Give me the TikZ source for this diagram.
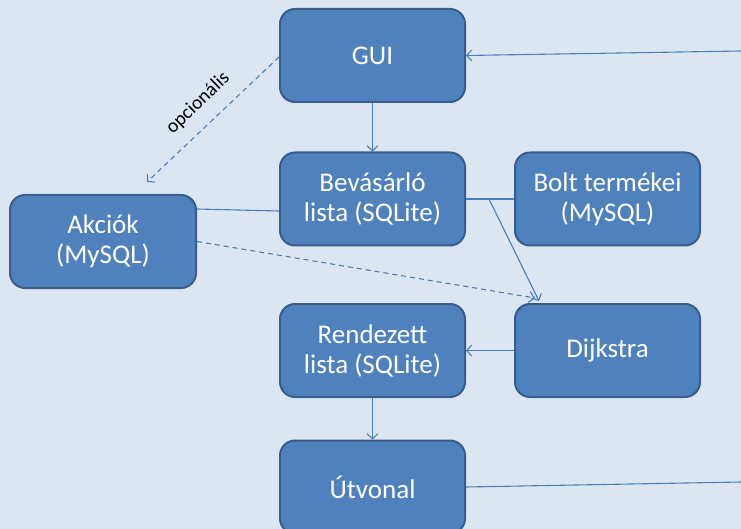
\documentclass[tikz,border=0pt]{standalone}
\usepackage{fontspec}
\setmainfont{Carlito}
\usetikzlibrary{arrows.meta}
\definecolor{bg}{HTML}{DCE6F2}
\definecolor{boxfill}{HTML}{4F81BD}
\definecolor{boxborder}{HTML}{385D8A}
\definecolor{linecol}{HTML}{4A7EBB}
\begin{document}
\begin{tikzpicture}[x=1pt,y=-1pt,
  box/.style={draw=boxborder, fill=boxfill, line width=2pt, rounded corners=15pt,
    minimum width=185pt, minimum height=93pt, text=white,
    font=\fontsize{27}{30}\selectfont, align=center, inner sep=0pt},
  conn/.style={draw=linecol, line width=1.1pt},
  arr/.style={conn, -{Straight Barb[length=5pt,width=11pt]}},
  dsh/.style={dash pattern=on 5pt off 4pt}]
\fill[bg] (0,0) rectangle (741,529);
\useasboundingbox (0,0) rectangle (741,529);

\node[box] (gui) at (372.5,55.5) {GUI};
\node[box] (bev) at (372.5,199) {Bevásárló\\lista (SQLite)};
\node[box] (bolt) at (607.5,199) {Bolt termékei\\(MySQL)};
\node[box, minimum width=186pt] (akc) at (103,241.5) {Akciók\\(MySQL)};
\node[box] (rend) at (372.5,350.5) {Rendezett\\lista (SQLite)};
\node[box] (dijk) at (607.5,350.5) {Dijkstra};
\node[box] (ut) at (372.5,487) {Útvonal};

\coordinate (rin) at (741,51);
\coordinate (rout) at (741,482);
\coordinate (opt) at (147,182);
\coordinate (branch) at (489,199);

\draw[arr] (gui) -- (bev);
\draw[arr] (rin) -- (gui.east);
\draw[arr, dsh] ([yshift=-1.5pt]gui.west) -- (opt);
\node[rotate=44, font=\fontsize{19.5}{22}\selectfont] (lbl) at (198,103) {opcionális};
\draw[conn] ([yshift=32.5pt]akc.east) -- ([yshift=-12pt]bev.west);
\draw[conn] (bev.east) -- (bolt.west);
\draw[arr] (branch) -- ([xshift=-68.5pt,yshift=2pt]dijk.north);
\draw[arr, dsh] (akc.east) -- ([xshift=-72.5pt,yshift=5pt]dijk.north);
\draw[arr] (dijk.west) -- (rend.east);
\draw[arr] (rend) -- (ut);
\draw[conn] (ut.east) -- (rout);
\end{tikzpicture}
\end{document}
